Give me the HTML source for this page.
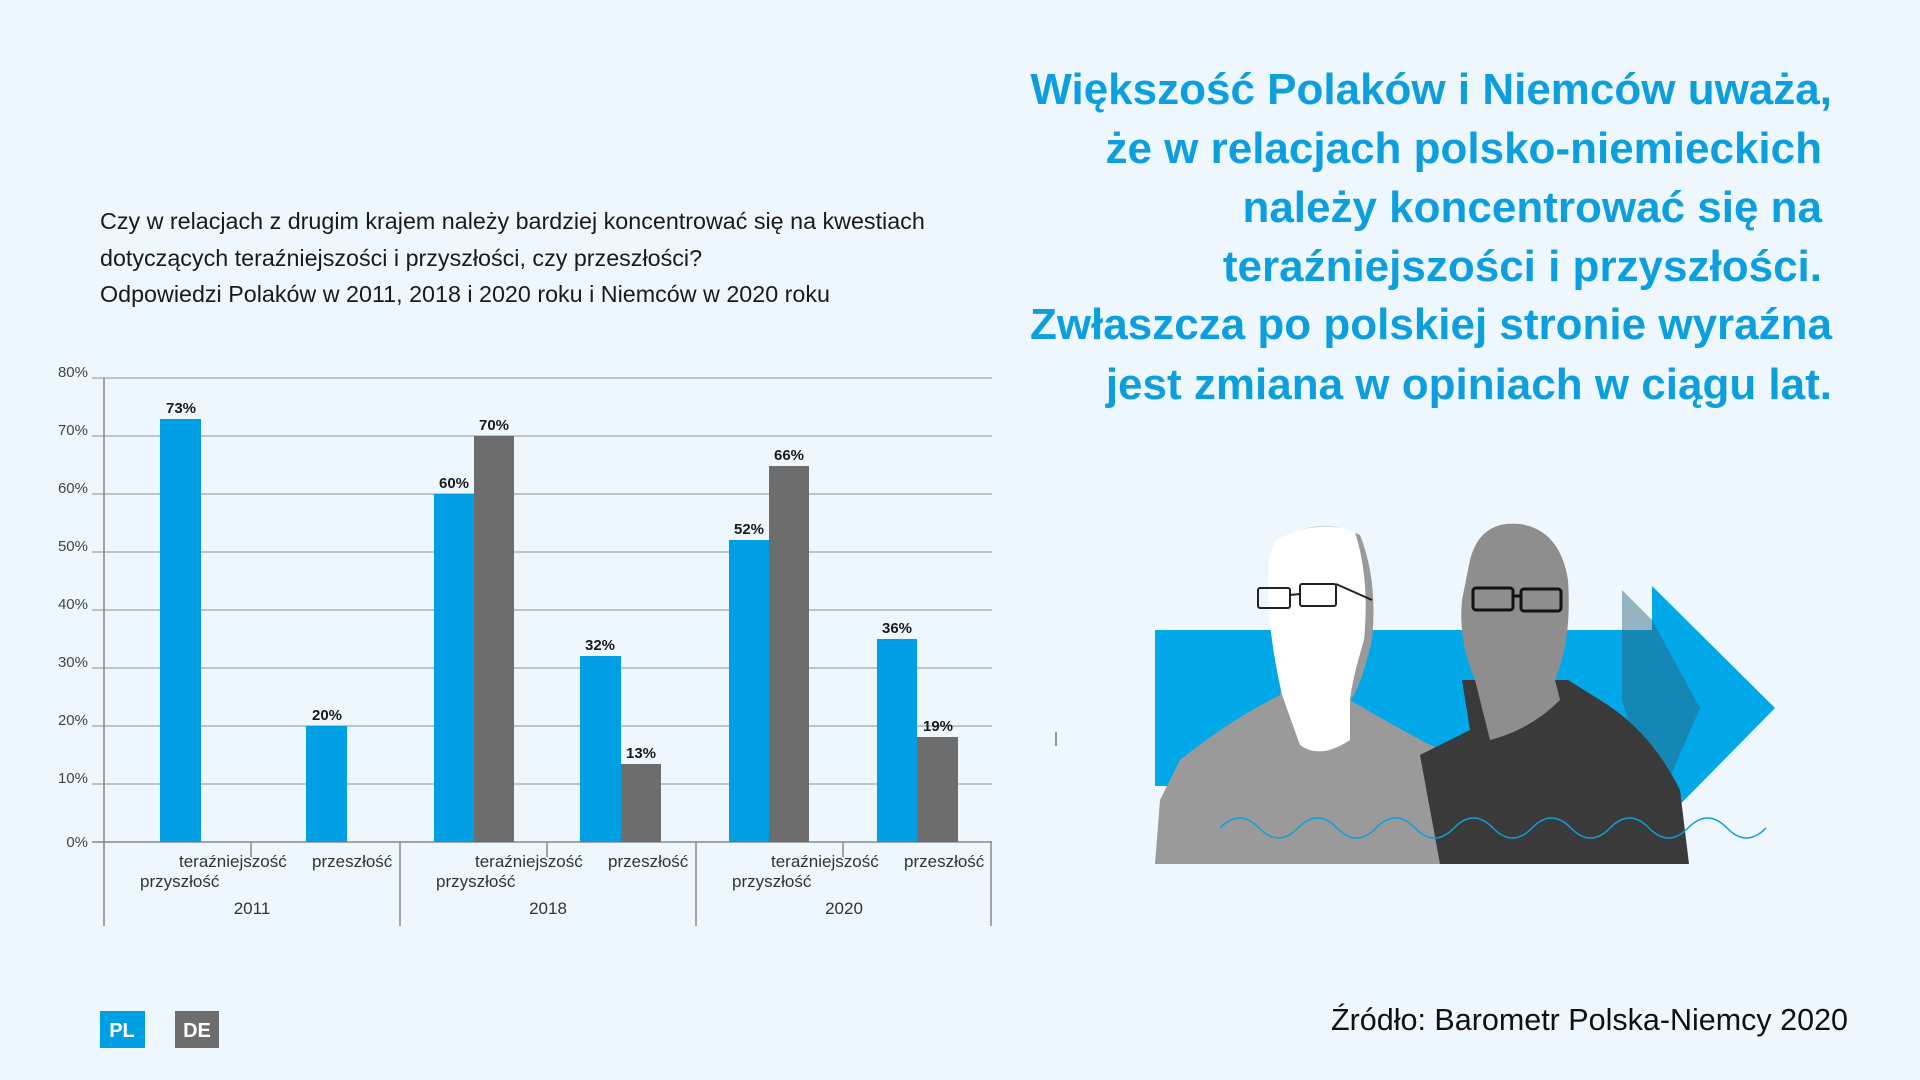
<!DOCTYPE html>
<html><head><meta charset="utf-8"><style>
html,body{margin:0;padding:0;background:#edf7fd;}
svg{display:block;font-family:"Liberation Sans",sans-serif;}
</style></head><body>
<svg width="1920" height="1080" viewBox="0 0 1920 1080" xmlns="http://www.w3.org/2000/svg">
<rect width="1920" height="1080" fill="#edf7fd"/>
<g fill="#0d9fdd" font-size="44" text-anchor="end" font-weight="bold">
<text x="1832" y="104">Większość Polaków i Niemców uważa,</text>
<text x="1822" y="163">że w relacjach polsko-niemieckich</text>
<text x="1822" y="222">należy koncentrować się na</text>
<text x="1822" y="281">teraźniejszości i przyszłości.</text>
<text x="1832" y="339">Zwłaszcza po polskiej stronie wyraźna</text>
<text x="1832" y="399">jest zmiana w opiniach w ciągu lat.</text>
</g>
<g fill="#1a1a1a" font-size="23.3">
<text x="100" y="229">Czy w relacjach z drugim krajem należy bardziej koncentrować się na kwestiach</text>
<text x="100" y="266">dotyczących teraźniejszości i przyszłości, czy przeszłości?</text>
<text x="100" y="302">Odpowiedzi Polaków w 2011, 2018 i 2020 roku i Niemców w 2020 roku</text>
</g>
<g stroke="#a9b3ba" stroke-width="1.5">
<line x1="92" y1="378" x2="992" y2="378"/>
<line x1="92" y1="436" x2="992" y2="436"/>
<line x1="92" y1="494" x2="992" y2="494"/>
<line x1="92" y1="552" x2="992" y2="552"/>
<line x1="92" y1="610" x2="992" y2="610"/>
<line x1="92" y1="668" x2="992" y2="668"/>
<line x1="92" y1="726" x2="992" y2="726"/>
<line x1="92" y1="784" x2="992" y2="784"/>
<line x1="92" y1="842" x2="992" y2="842" stroke="#888"/>
<line x1="104" y1="378" x2="104" y2="926" stroke="#888"/>
<line x1="400" y1="842" x2="400" y2="926" stroke="#888"/>
<line x1="696" y1="842" x2="696" y2="926" stroke="#888"/>
<line x1="991" y1="842" x2="991" y2="926" stroke="#888"/>
<line x1="251" y1="842" x2="251" y2="857" stroke="#888"/>
<line x1="547" y1="842" x2="547" y2="857" stroke="#888"/>
<line x1="843" y1="842" x2="843" y2="857" stroke="#888"/>
</g>
<g fill="#444" font-size="15" text-anchor="end">
<text x="88" y="377">80%</text><text x="88" y="435">70%</text><text x="88" y="493">60%</text>
<text x="88" y="551">50%</text><text x="88" y="609">40%</text><text x="88" y="667">30%</text>
<text x="88" y="725">20%</text><text x="88" y="783">10%</text><text x="88" y="847">0%</text>
</g>
<g fill="#009fe3">
<rect x="160" y="419" width="41" height="423"/>
<rect x="306" y="726" width="41" height="116"/>
<rect x="434" y="494" width="40" height="348"/>
<rect x="580" y="656" width="41" height="186"/>
<rect x="729" y="540" width="40" height="302"/>
<rect x="877" y="639" width="40" height="203"/>
</g>
<g fill="#6d6d6d">
<rect x="474" y="436" width="40" height="406"/>
<rect x="621" y="764" width="40" height="78"/>
<rect x="769" y="466" width="40" height="376"/>
<rect x="917" y="737" width="41" height="105"/>
</g>
<g fill="#1a1a1a" font-size="15" font-weight="bold" text-anchor="middle">
<text x="181" y="413">73%</text><text x="327" y="720">20%</text>
<text x="454" y="488">60%</text><text x="494" y="430">70%</text>
<text x="600" y="650">32%</text><text x="641" y="758">13%</text>
<text x="749" y="534">52%</text><text x="789" y="460">66%</text>
<text x="897" y="633">36%</text><text x="938" y="731">19%</text>
</g>
<g fill="#333" font-size="17">
<text x="179" y="867">teraźniejszość</text><text x="140" y="887">przyszłość</text><text x="312" y="867">przeszłość</text>
<text x="475" y="867">teraźniejszość</text><text x="436" y="887">przyszłość</text><text x="608" y="867">przeszłość</text>
<text x="771" y="867">teraźniejszość</text><text x="732" y="887">przyszłość</text><text x="904" y="867">przeszłość</text>
</g>
<g fill="#333" font-size="17" text-anchor="middle">
<text x="252" y="914">2011</text><text x="548" y="914">2018</text><text x="844" y="914">2020</text>
</g>
<line x1="1056" y1="732" x2="1056" y2="746" stroke="#777" stroke-width="1.5"/>
<rect x="1155" y="630" width="500" height="156" fill="#00a8e8"/>
<polygon points="1652,586 1775,708 1652,833" fill="#00a8e8"/>
<polygon points="1622,590 1652,620 1700,708 1660,800 1640,760 1622,700" fill="#2c5f7a" opacity="0.45"/>
<path d="M1280,540 Q1320,515 1360,535 Q1378,580 1372,640 Q1360,690 1350,700 L1350,700 Q1400,730 1450,755 L1470,864 L1155,864 L1160,800 L1180,760 Q1230,720 1280,695 L1282,680 Q1265,620 1268,560 Z" fill="#9a9a9a"/>
<path d="M1276,540 Q1318,518 1355,532 Q1370,580 1364,640 Q1352,680 1350,700 L1350,740 Q1320,760 1300,745 L1282,695 Q1265,620 1268,560 Z" fill="#ffffff"/>
<g fill="none" stroke="#222" stroke-width="2">
<rect x="1258" y="588" width="32" height="20" rx="2"/>
<rect x="1300" y="584" width="36" height="22" rx="2"/>
<line x1="1290" y1="595" x2="1300" y2="594"/><line x1="1336" y1="584" x2="1372" y2="600"/>
</g>
<path d="M1462,680 L1470,730 Q1440,745 1420,755 L1440,864 L1689,864 L1680,790 Q1650,730 1600,700 L1568,680 Z" fill="#3a3a3a"/>
<path d="M1470,560 Q1480,520 1520,524 Q1560,530 1568,580 Q1572,640 1555,680 L1560,700 Q1530,730 1490,740 L1475,680 Q1458,640 1462,600 Z" fill="#8e8e8e"/>
<g fill="none" stroke="#111" stroke-width="3">
<rect x="1473" y="588" width="40" height="22" rx="3"/><rect x="1521" y="589" width="40" height="22" rx="3"/>
<line x1="1513" y1="596" x2="1521" y2="596"/>
</g>
<path d="M1220,828 q19.5,-20 39,0 t39,0 t39,0 t39,0 t39,0 t39,0 t39,0 t39,0 t39,0 t39,0 t39,0 t39,0 t39,0 t39,0" fill="none" stroke="#0d9fdd" stroke-width="1.5"/>
<rect x="100" y="1011" width="45" height="37" fill="#009fe3"/>
<text x="122" y="1037" fill="#fff" font-size="20" font-weight="bold" text-anchor="middle">PL</text>
<rect x="175" y="1011" width="44" height="37" fill="#6d6d6d"/>
<text x="197" y="1037" fill="#fff" font-size="20" font-weight="bold" text-anchor="middle">DE</text>
<text x="1848" y="1030" fill="#111" font-size="30.5" text-anchor="end">Źródło: Barometr Polska-Niemcy 2020</text>
</svg>
</body></html>
